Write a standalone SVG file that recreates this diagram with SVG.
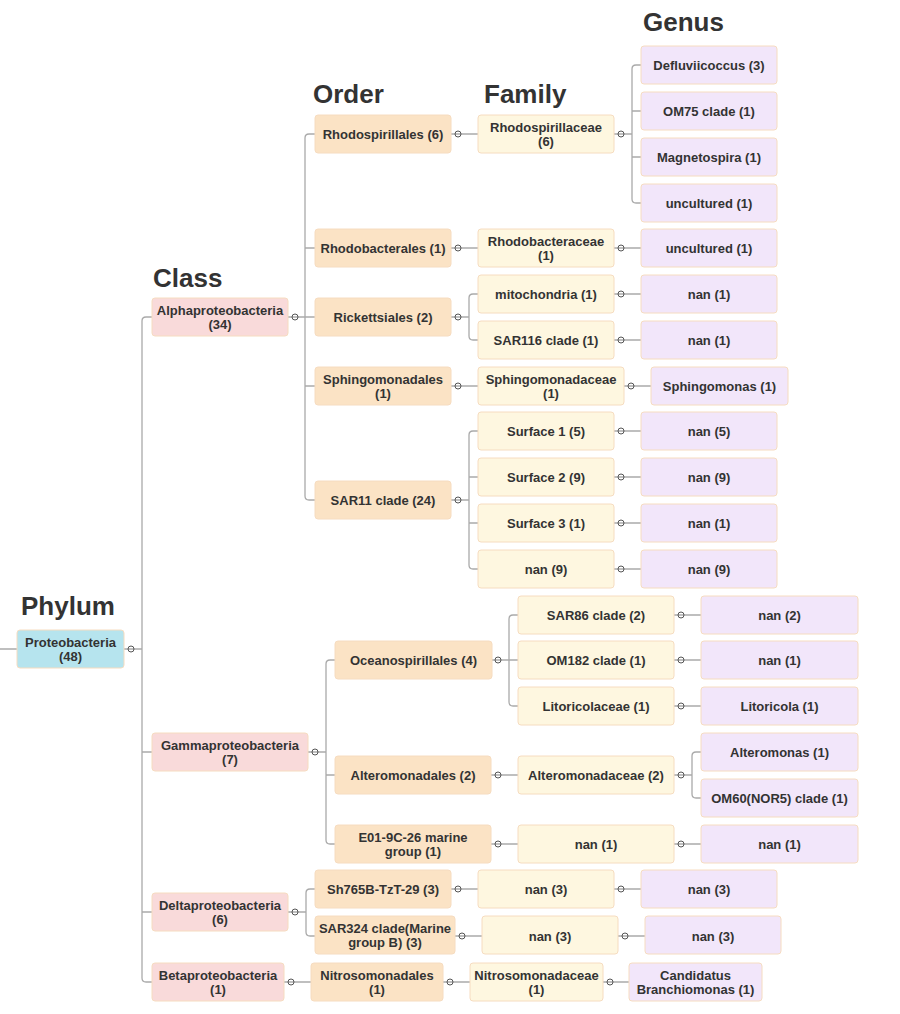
<svg xmlns="http://www.w3.org/2000/svg" width="900" height="1014" viewBox="0 0 900 1014">
<style>
.n{stroke:#f6dcc0;stroke-width:1}
.p{fill:#b6e4ee}.c{fill:#f9dada}.o{fill:#fbe3c5}.f{fill:#fef7e0}.g{fill:#f2e6fa}
.t{font-family:"Liberation Sans",Arial,sans-serif;font-weight:bold;font-size:13px;fill:#333;text-anchor:middle}
.h{font-family:"Liberation Sans",Arial,sans-serif;font-weight:bold;font-size:26px;fill:#333}
.l{fill:none;stroke:#aaa;stroke-width:1.3}
.k{fill:none;stroke:#555;stroke-width:1}
</style>
<g id="titles">
<text class="h" x="21" y="615">Phylum</text>
<text class="h" x="153" y="287">Class</text>
<text class="h" x="313" y="103">Order</text>
<text class="h" x="484" y="103">Family</text>
<text class="h" x="643" y="31">Genus</text>
</g>
<g id="connectors">
<path class="l" d="M0,649 H17 M124,649 H142 M152,317 H146 Q142,317 142,321 V978 Q142,982 146,982 H152 M142,752 H152 M142,912 H152"/>
<path class="l" d="M288,317 H305 M315,134 H309 Q305,134 305,138 V496 Q305,500 309,500 H315 M305,248 H315 M305,317 H315 M305,386 H315"/>
<path class="l" d="M614,134 H632 M641,65 H636 Q632,65 632,69 V199 Q632,203 636,203 H641 M632,111 H641 M632,157 H641"/>
<path class="l" d="M451,317 H469 M478,294 H473 Q469,294 469,298 V336 Q469,340 473,340 H478"/>
<path class="l" d="M451,500 H469 M478,431 H473 Q469,431 469,435 V565 Q469,569 473,569 H478 M469,477 H478 M469,523 H478"/>
<path class="l" d="M308,752 H326 M335,660 H330 Q326,660 326,664 V840 Q326,844 330,844 H335 M326,775 H335"/>
<path class="l" d="M492,660 H509 M518,615 H513 Q509,615 509,619 V702 Q509,706 513,706 H518 M509,660 H518"/>
<path class="l" d="M674,775 H692 M701,752 H696 Q692,752 692,756 V794 Q692,798 696,798 H701"/>
<path class="l" d="M288,912 H306 M315,889 H310 Q306,889 306,893 V932 Q306,936 310,936 H315"/>
<path class="l" d="M451,134 H478 M451,248 H478 M614,248 H641 M614,294 H641 M614,340 H641 M451,386 H478 M624,386 H651 M614,431 H641 M614,477 H641 M614,523 H641 M614,569 H641 M674,615 H701 M674,660 H701 M674,706 H701 M491,775 H518 M491,844 H518 M674,844 H701 M451,889 H478 M614,889 H641 M455,936 H482 M618,936 H645 M284,982 H311 M443,982 H470 M603,982 H629"/>
<g class="k">
<circle cx="131" cy="649" r="3"/><circle cx="295" cy="317" r="3"/><circle cx="315" cy="752" r="3"/><circle cx="295" cy="912" r="3"/><circle cx="291" cy="982" r="3"/>
<circle cx="458" cy="134" r="3"/><circle cx="458" cy="248" r="3"/><circle cx="458" cy="317" r="3"/><circle cx="458" cy="386" r="3"/><circle cx="458" cy="500" r="3"/>
<circle cx="498" cy="660" r="3"/><circle cx="498" cy="775" r="3"/><circle cx="498" cy="844" r="3"/><circle cx="458" cy="889" r="3"/><circle cx="462" cy="936" r="3"/><circle cx="450" cy="982" r="3"/>
<circle cx="621" cy="134" r="3"/><circle cx="621" cy="248" r="3"/><circle cx="621" cy="294" r="3"/><circle cx="621" cy="340" r="3"/><circle cx="631" cy="386" r="3"/>
<circle cx="621" cy="431" r="3"/><circle cx="621" cy="477" r="3"/><circle cx="621" cy="523" r="3"/><circle cx="621" cy="569" r="3"/>
<circle cx="681" cy="615" r="3"/><circle cx="681" cy="660" r="3"/><circle cx="681" cy="706" r="3"/><circle cx="681" cy="775" r="3"/><circle cx="681" cy="844" r="3"/>
<circle cx="621" cy="889" r="3"/><circle cx="625" cy="936" r="3"/><circle cx="610" cy="982" r="3"/>
</g>
</g>
<g id="phylum"><rect class="n p" x="17" y="630" width="107" height="38" rx="3"/><text class="t" x="70.5" y="647">Proteobacteria</text><text class="t" x="70.5" y="661">(48)</text></g>
<g id="c-alpha"><rect class="n c" x="152" y="298" width="136" height="38" rx="3"/><text class="t" x="220" y="314.5">Alphaproteobacteria</text><text class="t" x="220" y="329">(34)</text></g>
<g id="c-gamma"><rect class="n c" x="152" y="733" width="156" height="38" rx="3"/><text class="t" x="230" y="749.5">Gammaproteobacteria</text><text class="t" x="230" y="764">(7)</text></g>
<g id="c-delta"><rect class="n c" x="152" y="893" width="136" height="38" rx="3"/><text class="t" x="220" y="909.5">Deltaproteobacteria</text><text class="t" x="220" y="924">(6)</text></g>
<g id="c-beta"><rect class="n c" x="152" y="963" width="132" height="38" rx="3"/><text class="t" x="218" y="979.5">Betaproteobacteria</text><text class="t" x="218" y="994">(1)</text></g>
<g id="o1"><rect class="n o" x="315" y="115" width="136" height="38" rx="3"/><text class="t" x="383" y="138.5">Rhodospirillales (6)</text></g>
<g id="o2"><rect class="n o" x="315" y="229" width="136" height="38" rx="3"/><text class="t" x="383" y="252.5">Rhodobacterales (1)</text></g>
<g id="o3"><rect class="n o" x="315" y="298" width="136" height="38" rx="3"/><text class="t" x="383" y="321.5">Rickettsiales (2)</text></g>
<g id="o4"><rect class="n o" x="315" y="367" width="136" height="38" rx="3"/><text class="t" x="383" y="383.5">Sphingomonadales</text><text class="t" x="383" y="398">(1)</text></g>
<g id="o5"><rect class="n o" x="315" y="481" width="136" height="38" rx="3"/><text class="t" x="383" y="504.5">SAR11 clade (24)</text></g>
<g id="o6"><rect class="n o" x="335" y="641" width="157" height="38" rx="3"/><text class="t" x="413.5" y="664.5">Oceanospirillales (4)</text></g>
<g id="o7"><rect class="n o" x="335" y="756" width="156" height="38" rx="3"/><text class="t" x="413" y="779.5">Alteromonadales (2)</text></g>
<g id="o8"><rect class="n o" x="335" y="825" width="156" height="38" rx="3"/><text class="t" x="413" y="841.5">E01-9C-26 marine</text><text class="t" x="413" y="856">group (1)</text></g>
<g id="o9"><rect class="n o" x="315" y="870" width="136" height="38" rx="3"/><text class="t" x="383" y="893.5">Sh765B-TzT-29 (3)</text></g>
<g id="o10"><rect class="n o" x="315" y="916" width="140" height="38" rx="3"/><text class="t" x="385" y="932.5">SAR324 clade(Marine</text><text class="t" x="385" y="947">group B) (3)</text></g>
<g id="o11"><rect class="n o" x="311" y="963" width="132" height="38" rx="3"/><text class="t" x="377" y="979.5">Nitrosomonadales</text><text class="t" x="377" y="994">(1)</text></g>
<g id="f1"><rect class="n f" x="478" y="115" width="136" height="38" rx="3"/><text class="t" x="546" y="131.5">Rhodospirillaceae</text><text class="t" x="546" y="146">(6)</text></g>
<g id="f2"><rect class="n f" x="478" y="229" width="136" height="38" rx="3"/><text class="t" x="546" y="245.5">Rhodobacteraceae</text><text class="t" x="546" y="260">(1)</text></g>
<g id="f3"><rect class="n f" x="478" y="275" width="136" height="38" rx="3"/><text class="t" x="546" y="298.5">mitochondria (1)</text></g>
<g id="f4"><rect class="n f" x="478" y="321" width="136" height="38" rx="3"/><text class="t" x="546" y="344.5">SAR116 clade (1)</text></g>
<g id="f5"><rect class="n f" x="478" y="367" width="146" height="38" rx="3"/><text class="t" x="551" y="383.5">Sphingomonadaceae</text><text class="t" x="551" y="398">(1)</text></g>
<g id="f6"><rect class="n f" x="478" y="412" width="136" height="38" rx="3"/><text class="t" x="546" y="435.5">Surface 1 (5)</text></g>
<g id="f7"><rect class="n f" x="478" y="458" width="136" height="38" rx="3"/><text class="t" x="546" y="481.5">Surface 2 (9)</text></g>
<g id="f8"><rect class="n f" x="478" y="504" width="136" height="38" rx="3"/><text class="t" x="546" y="527.5">Surface 3 (1)</text></g>
<g id="f9"><rect class="n f" x="478" y="550" width="136" height="38" rx="3"/><text class="t" x="546" y="573.5">nan (9)</text></g>
<g id="f10"><rect class="n f" x="518" y="596" width="156" height="38" rx="3"/><text class="t" x="596" y="619.5">SAR86 clade (2)</text></g>
<g id="f11"><rect class="n f" x="518" y="641" width="156" height="38" rx="3"/><text class="t" x="596" y="664.5">OM182 clade (1)</text></g>
<g id="f12"><rect class="n f" x="518" y="687" width="156" height="38" rx="3"/><text class="t" x="596" y="710.5">Litoricolaceae (1)</text></g>
<g id="f13"><rect class="n f" x="518" y="756" width="156" height="38" rx="3"/><text class="t" x="596" y="779.5">Alteromonadaceae (2)</text></g>
<g id="f14"><rect class="n f" x="518" y="825" width="156" height="38" rx="3"/><text class="t" x="596" y="848.5">nan (1)</text></g>
<g id="f15"><rect class="n f" x="478" y="870" width="136" height="38" rx="3"/><text class="t" x="546" y="893.5">nan (3)</text></g>
<g id="f16"><rect class="n f" x="482" y="916" width="136" height="38" rx="3"/><text class="t" x="550" y="940.5">nan (3)</text></g>
<g id="f17"><rect class="n f" x="470" y="963" width="133" height="38" rx="3"/><text class="t" x="536.5" y="979.5">Nitrosomonadaceae</text><text class="t" x="536.5" y="994">(1)</text></g>
<g id="g1"><rect class="n g" x="641" y="46" width="136" height="38" rx="3"/><text class="t" x="709" y="69.5">Defluviicoccus (3)</text></g>
<g id="g2"><rect class="n g" x="641" y="92" width="136" height="38" rx="3"/><text class="t" x="709" y="115.5">OM75 clade (1)</text></g>
<g id="g3"><rect class="n g" x="641" y="138" width="136" height="38" rx="3"/><text class="t" x="709" y="161.5">Magnetospira (1)</text></g>
<g id="g4"><rect class="n g" x="641" y="184" width="136" height="38" rx="3"/><text class="t" x="709" y="207.5">uncultured (1)</text></g>
<g id="g5"><rect class="n g" x="641" y="229" width="136" height="38" rx="3"/><text class="t" x="709" y="252.5">uncultured (1)</text></g>
<g id="g6"><rect class="n g" x="641" y="275" width="136" height="38" rx="3"/><text class="t" x="709" y="298.5">nan (1)</text></g>
<g id="g7"><rect class="n g" x="641" y="321" width="136" height="38" rx="3"/><text class="t" x="709" y="344.5">nan (1)</text></g>
<g id="g8"><rect class="n g" x="651" y="367" width="137" height="38" rx="3"/><text class="t" x="719.5" y="390.5">Sphingomonas (1)</text></g>
<g id="g9"><rect class="n g" x="641" y="412" width="136" height="38" rx="3"/><text class="t" x="709" y="435.5">nan (5)</text></g>
<g id="g10"><rect class="n g" x="641" y="458" width="136" height="38" rx="3"/><text class="t" x="709" y="481.5">nan (9)</text></g>
<g id="g11"><rect class="n g" x="641" y="504" width="136" height="38" rx="3"/><text class="t" x="709" y="527.5">nan (1)</text></g>
<g id="g12"><rect class="n g" x="641" y="550" width="136" height="38" rx="3"/><text class="t" x="709" y="573.5">nan (9)</text></g>
<g id="g13"><rect class="n g" x="701" y="596" width="157" height="38" rx="3"/><text class="t" x="779.5" y="619.5">nan (2)</text></g>
<g id="g14"><rect class="n g" x="701" y="641" width="157" height="38" rx="3"/><text class="t" x="779.5" y="664.5">nan (1)</text></g>
<g id="g15"><rect class="n g" x="701" y="687" width="157" height="38" rx="3"/><text class="t" x="779.5" y="710.5">Litoricola (1)</text></g>
<g id="g16"><rect class="n g" x="701" y="733" width="157" height="38" rx="3"/><text class="t" x="779.5" y="756.5">Alteromonas (1)</text></g>
<g id="g17"><rect class="n g" x="701" y="779" width="157" height="38" rx="3"/><text class="t" x="779.5" y="802.5">OM60(NOR5) clade (1)</text></g>
<g id="g18"><rect class="n g" x="701" y="825" width="157" height="38" rx="3"/><text class="t" x="779.5" y="848.5">nan (1)</text></g>
<g id="g19"><rect class="n g" x="641" y="870" width="136" height="38" rx="3"/><text class="t" x="709" y="893.5">nan (3)</text></g>
<g id="g20"><rect class="n g" x="645" y="916" width="136" height="38" rx="3"/><text class="t" x="713" y="940.5">nan (3)</text></g>
<g id="g21"><rect class="n g" x="629" y="963" width="133" height="38" rx="3"/><text class="t" x="695.5" y="979.5">Candidatus</text><text class="t" x="695.5" y="994">Branchiomonas (1)</text></g>
</svg>
